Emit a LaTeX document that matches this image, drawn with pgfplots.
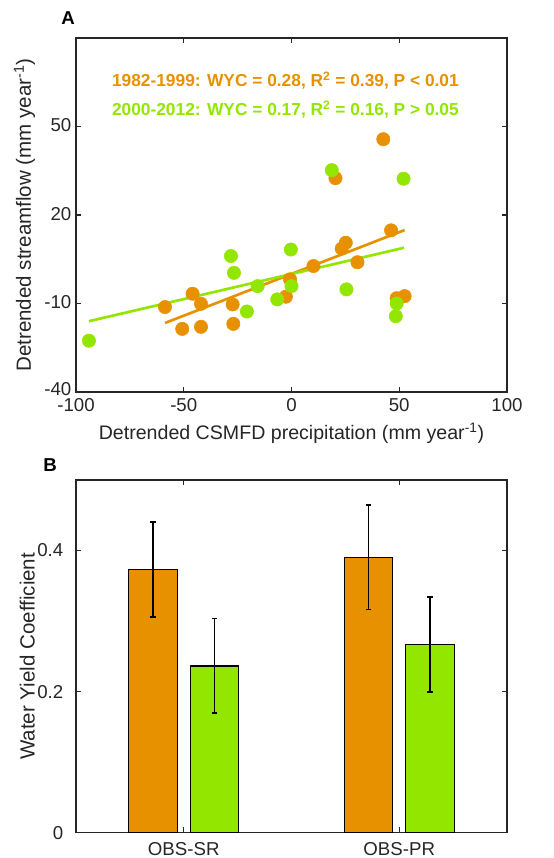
\documentclass[border=0pt]{standalone}
\usepackage{pgfplots}
\pgfplotsset{compat=1.18}
\usepackage{fontspec}
\setmainfont{Liberation Sans}
\definecolor{myorange}{RGB}{232,145,0}
\definecolor{mygreen}{RGB}{147,230,0}
\definecolor{axgray}{RGB}{38,38,38}
\begin{document}
\begin{tikzpicture}
\path[use as bounding box] (0,0) rectangle (415.5pt,-643.5pt);
\pgfplotsset{
  mystyle/.style={
    scale only axis,
    tick align=inside, major tick length=4pt,
    axis line style={axgray, line width=0.8pt},
    tick style={axgray, line width=0.8pt},
    tick label style={font=\fontsize{14}{16}\selectfont, text=axgray},
    label style={font=\fontsize{15.4}{18}\selectfont, text=axgray},
  }
}
\node[font=\bfseries\fontsize{14}{16}\selectfont] at (51pt,-13.5pt) {A};
\node[font=\bfseries\fontsize{14}{16}\selectfont] at (37.5pt,-348.75pt) {B};
\begin{axis}[mystyle,
  at={(57pt,-28.5pt)}, anchor=north west,
  width=323.25pt, height=265.5pt,
  xmin=-100, xmax=100, ymin=-40, ymax=80,
  xtick={-100,-50,0,50,100}, xticklabels={-100,-50,0,50,100},
  ytick={-40,-10,20,50}, yticklabels={\raisebox{2.5pt}{-40},-10,20,50},
  xticklabel style={yshift=-1.5pt},
  yticklabel style={yshift=1pt},
  xlabel={Detrended CSMFD precipitation (mm year\textsuperscript{-1})},
  xlabel style={font=\fontsize{14.7}{17}\selectfont, yshift=-1.5pt},
  ylabel={Detrended streamflow (mm year\textsuperscript{-1})},
]
\addplot[myorange, only marks, mark=*, mark size=5pt] coordinates {
(-58.7,-11.2) (-50.7,-18.6) (-45.9,-6.7) (-42.0,-10.1) (-42.0,-17.9) (-27.3,-10.3)
(-27.0,-16.9) (-2.6,-7.7) (-0.7,-1.8) (10.2,2.7) (23.3,8.6) (25.2,10.6)
(30.6,4.0) (46.2,14.8) (48.8,-8.2) (52.5,-7.5) (20.4,32.5) (42.6,45.7)
};
\addplot[mygreen, only marks, mark=*, mark size=5pt] coordinates {
(18.7,35.2) (52.0,32.3) (-94.0,-22.6) (-28.1,6.1) (-26.7,0.4) (-20.7,-12.7)
(-15.7,-4.1) (-6.6,-8.6) (-0.3,8.3) (0.0,-4.1) (25.5,-5.2) (48.8,-10.0) (48.4,-14.3)
};
\addplot[myorange, line width=2pt] coordinates {(-58.7,-16.6) (52.5,14.9)};
\addplot[mygreen, line width=2pt] coordinates {(-94.0,-16.0) (52.2,8.9)};
\node[anchor=base west, font=\bfseries\fontsize{13}{15}\selectfont, text=myorange, inner sep=0pt] at (axis cs:-83.4,63.7) {1982-1999: WYC = 0.28, R\textsuperscript{2} = 0.39, P < 0.01};
\node[anchor=base west, font=\bfseries\fontsize{13}{15}\selectfont, text=mygreen, inner sep=0pt] at (axis cs:-83.4,53.8) {2000-2012: WYC = 0.17, R\textsuperscript{2} = 0.16, P > 0.05};
\end{axis}
\begin{axis}[mystyle,
  at={(57pt,-360pt)}, anchor=north west,
  width=323.25pt, height=264.5pt,
  xmin=0.5, xmax=2.5, ymin=0, ymax=0.5,
  xtick={1,2}, xticklabels={OBS-SR,OBS-PR},
  xticklabel style={yshift=-4pt},
  ytick={0,0.2,0.4}, yticklabels={0,0.2,0.4},
  yticklabel style={xshift=-6pt},
  ylabel={Water Yield Coefficient},
  ylabel style={yshift=-5pt},
]
\addplot[ybar, bar width=0.225, bar shift=0pt, fill=myorange, draw=black, line width=1pt,
  error bars/.cd, y dir=both, y explicit,
  error bar style={black, line width=1.2pt},
  error mark options={rotate=90, mark size=2pt, black, line width=1.2pt}]
  coordinates {(0.8575,0.373) +- (0,0.0675) (1.8575,0.3905) +- (0,0.074)};
\addplot[ybar, bar width=0.225, bar shift=0pt, fill=mygreen, draw=black, line width=1pt,
  error bars/.cd, y dir=both, y explicit,
  error bar style={black, line width=1.2pt},
  error mark options={rotate=90, mark size=2pt, black, line width=1.2pt}]
  coordinates {(1.1425,0.2364) +- (0,0.067) (2.1425,0.2667) +- (0,0.0673)};
\end{axis}
\end{tikzpicture}
\end{document}
